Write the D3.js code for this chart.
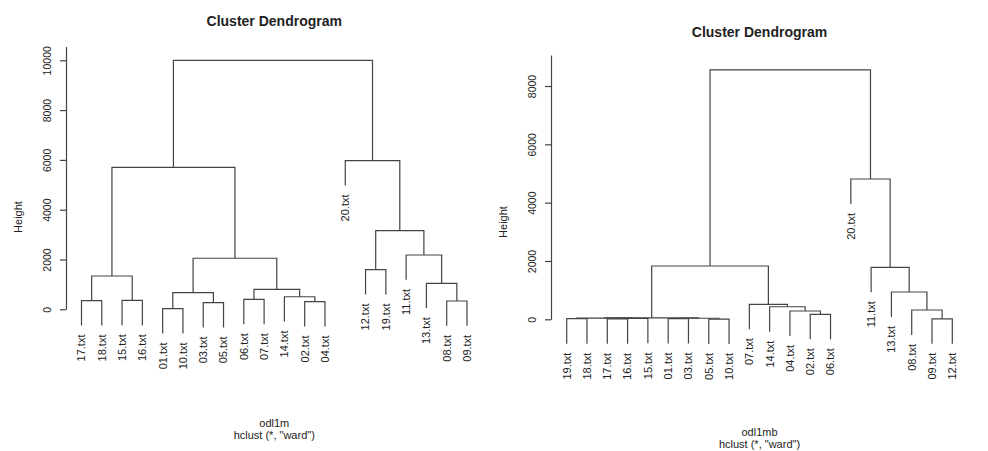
<!DOCTYPE html>
<html lang="en">
<head>
<meta charset="UTF-8">
<title>Cluster Dendrogram</title>
<style>
  body { margin: 0; background: #fff; }
  svg { display: block; font-family: "Liberation Sans", Arial, sans-serif; }
  .link { fill: none; stroke: #444; stroke-width: 1.2; }
  text { fill: #222; }
  .axis path, .axis line { stroke: #444; stroke-width: 1.2; }
</style>
</head>
<body>
<div id="chart"></div>
<script src="https://d3js.org/d3.v7.min.js"></script>
<script>
// leaf labels in the order they are drawn, left to right
const labels1 = ["17.txt","18.txt","15.txt","16.txt","01.txt","10.txt","03.txt","05.txt","06.txt","07.txt",
                 "14.txt","02.txt","04.txt","20.txt","12.txt","19.txt","11.txt","13.txt","08.txt","09.txt"];
// hclust-style merges: negative = leaf (1-based in labels), positive = earlier merge step
const mergeA1 = [-5, -7, -12, -19, -1, -3, -9, -11, 1, 7, -18, 5, -15, 9, -17, 13, 12, -14, 17];
const mergeB1 = [-6, -8, -13, -20, -2, -4, -10, 3, 2, 8, 4, 6, -16, 10, 11, 15, 14, 16, 18];
const heights1 = [30, 270, 305, 333, 345, 360, 400, 505, 670, 800, 1045, 1337, 1590, 2050, 2180, 3160, 5700, 5970, 10000];
const ticks1 = [0, 2000, 4000, 6000, 8000, 10000];

const labels2 = ["19.txt","18.txt","17.txt","16.txt","15.txt","01.txt","03.txt","05.txt","10.txt","07.txt",
                 "14.txt","04.txt","02.txt","06.txt","20.txt","11.txt","13.txt","08.txt","09.txt","12.txt"];
const mergeA2 = [-8, -3, -19, -1, -6, 2, 5, 4, 8, -13, -12, -18, -11, -10, -17, -16, 9, -15, 17];
const mergeB2 = [-9, -4, -20, -2, -7, -5, 1, 6, 7, -14, 10, 3, 11, 13, 12, 15, 14, 16, 18];
const heights2 = [8, 12, 18, 20, 24, 30, 36, 40, 48, 170, 285, 319, 430, 515, 936, 1783, 1828, 4811, 8550];
const ticks2 = [0, 2000, 4000, 6000, 8000];

const width = 988, height = 451;
const svg = d3.select("#chart").append("svg")
  .attr("width", width).attr("height", height);
svg.append("rect").attr("width", width).attr("height", height).attr("fill", "#fff");

function dendro(o) {
  const g = svg.append("g");
  const x = d3.scaleLinear().domain([0, o.labels.length - 1]).range(o.xRange);
  const y = d3.scaleLinear().domain([0, o.yTop]).range(o.yRange);
  const maxH = d3.max(o.heights), hang = 0.1 * (maxH - d3.min(o.heights));

  // positions of merge steps
  const pos = [];
  const px = k => k < 0 ? x(-k - 1) : pos[k - 1].x;
  o.heights.forEach((h, i) => {
    pos.push({ x: (px(o.a[i]) + px(o.b[i])) / 2, h });
  });
  const top = (k, h) => k < 0 ? y(h - hang) : y(pos[k - 1].h);

  g.selectAll(".link").data(o.heights).join("path")
    .attr("class", "link")
    .attr("d", (h, i) => {
      const a = o.a[i], b = o.b[i];
      return `M${px(a)},${top(a, h)}V${y(h)}H${px(b)}V${top(b, h)}`;
    });

  // leaf labels under each hanging leaf
  const leafEnd = new Map();
  o.heights.forEach((h, i) => {
    [o.a[i], o.b[i]].forEach(k => { if (k < 0) leafEnd.set(-k - 1, y(h - hang)); });
  });
  g.selectAll(".leaf").data(o.labels).join("text")
    .attr("class", "leaf")
    .attr("transform", (d, i) => `translate(${x(i)},${leafEnd.get(i) + 9}) rotate(-90)`)
    .attr("text-anchor", "end")
    .attr("dy", "0.35em")
    .style("font-size", "11px")
    .text(d => d);

  // y axis
  const ax = g.append("g").attr("class", "axis")
    .attr("transform", `translate(${o.axisX},0)`)
    .call(d3.axisLeft(y).tickValues(o.ticks).tickSize(6).tickSizeOuter(0).tickFormat(d3.format("d")));
  ax.selectAll("text")
    .attr("x", null).attr("dy", null)
    .attr("transform", "rotate(-90)")
    .attr("y", -15)
    .attr("text-anchor", "middle")
    .style("font-size", "10.5px")
    .style("font-family", "Liberation Sans, Arial, sans-serif")
    .attr("fill", "#222");

  g.append("text")
    .attr("transform", `translate(${o.axisX - 44},${o.yLab}) rotate(-90)`)
    .attr("text-anchor", "middle")
    .style("font-size", "11px")
    .text("Height");

  const cx = (o.xRange[0] + o.xRange[1]) / 2;
  g.append("text").attr("x", cx).attr("y", o.titleY)
    .attr("text-anchor", "middle")
    .style("font-size", "14px").style("font-weight", "bold")
    .text("Cluster Dendrogram");
  g.append("text").attr("x", cx).attr("y", o.subY)
    .attr("text-anchor", "middle").style("font-size", "11px")
    .text(o.name);
  g.append("text").attr("x", cx).attr("y", o.subY + 12)
    .attr("text-anchor", "middle").style("font-size", "11px")
    .text('hclust (*, "ward")');
}

dendro({
  labels: labels1, a: mergeA1, b: mergeB1, heights: heights1, ticks: ticks1,
  xRange: [81.5, 467], yTop: 10550, yRange: [309.3, 46.6], axisX: 66,
  yLab: 217, titleY: 26, subY: 427, name: "odl1m"
});
dendro({
  labels: labels2, a: mergeA2, b: mergeB2, heights: heights2, ticks: ticks2,
  xRange: [566.7, 952.3], yTop: 9060, yRange: [319.3, 55.1], axisX: 551,
  yLab: 222, titleY: 37, subY: 436, name: "odl1mb"
});
</script>
</body>
</html>
